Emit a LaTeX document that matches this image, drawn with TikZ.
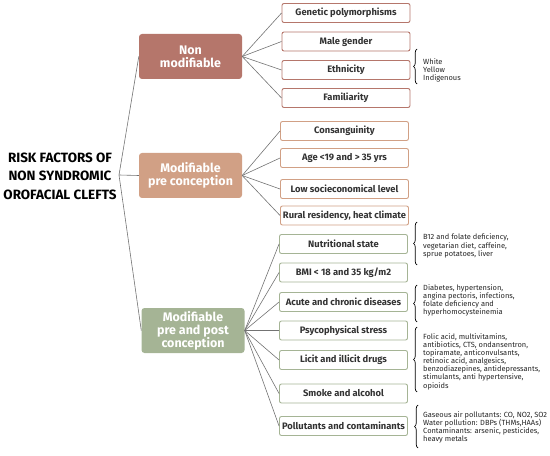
\documentclass[tikz,border=0pt]{standalone}
\usepackage{fontspec}
\setmainfont{Fira Sans}
\usetikzlibrary{decorations.pathreplacing}

\definecolor{nonmod}{HTML}{B5766B}
\definecolor{premod}{HTML}{D1A085}
\definecolor{postmod}{HTML}{A5B495}

\tikzset{
  cat/.style={rounded corners=3bp, minimum width=103bp, minimum height=45bp, inner sep=1bp,
    text=white, align=center, font=\bfseries\fontsize{12.5}{13}\selectfont},
  leaf/.style={draw=#1, fill=white, line width=0.9bp, rounded corners=2bp, minimum width=128bp,
    minimum height=19bp, inner sep=1bp, text=black!80, font=\bfseries\fontsize{9.4}{10}\selectfont},
  link/.style={draw=black!55, line width=0.6bp},
  note/.style={anchor=west, align=left, inner sep=0pt, text=black!85, font=\fontsize{7.5}{8.2}\selectfont},
  curly/.style={decorate, decoration={brace, amplitude=3.5bp}, line width=0.7bp}
}

\begin{document}
\begin{tikzpicture}[x=1bp, y=-1bp]
\useasboundingbox (0,0) rectangle (550,456);

% root
\node[align=center, inner sep=0pt, font=\bfseries\fontsize{13.5}{18.5}\selectfont] (root) at (60,176) {RISK FACTORS OF\\NON SYNDROMIC\\OROFACIAL CLEFTS};
\coordinate (fork) at (119,175);

% categories
\node[cat, fill=nonmod] (nonmod) at (190.5,56.5) {Non\\modifiable};
\node[cat, fill=premod] (precon) at (190.5,175.5) {Modifiable\\pre conception};
\node[cat, fill=postmod] (prepost) at (193,330.5) {Modifiable\\pre and post\\conception};

\draw[link] (fork) -- (nonmod.west);
\draw[link] (fork) -- (precon.west);
\draw[link] (fork) -- (prepost.west);

% non modifiable
\node[leaf=nonmod] (genetic) at (346,13) {Genetic polymorphisms};
\node[leaf=nonmod] (male) at (346,41.5) {Male gender};
\node[leaf=nonmod] (ethnic) at (346,70) {Ethnicity};
\node[leaf=nonmod] (family) at (346,98) {Familiarity};

% pre conception
\node[leaf=premod] (consang) at (344.5,131) {Consanguinity};
\node[leaf=premod] (age) at (344.5,158) {Age <19 and > 35 yrs};
\node[leaf=premod] (socio) at (344.5,189) {Low socieconomical level};
\node[leaf=premod] (rural) at (344.5,215.5) {Rural residency, heat climate};

% pre and post conception
\node[leaf=postmod] (nutri) at (343.5,244) {Nutritional state};
\node[leaf=postmod] (bmi) at (343.5,272.5) {BMI < 18 and 35 kg/m2};
\node[leaf=postmod] (disease) at (343.5,302) {Acute and chronic diseases};
\node[leaf=postmod] (stress) at (343.5,330.5) {Psycophysical stress};
\node[leaf=postmod] (drugs) at (343.5,360) {Licit and illicit drugs};
\node[leaf=postmod] (smoke) at (343.5,393.5) {Smoke and alcohol};
\node[leaf=postmod] (pollut) at (343.5,426) {Pollutants and contaminants};

\foreach \leafname in {genetic,male,ethnic,family}
  \draw[link] (nonmod.east) -- (\leafname.west);
\foreach \leafname in {consang,age,socio,rural}
  \draw[link] (precon.east) -- (\leafname.west);
\foreach \leafname in {nutri,bmi,disease,stress,drugs,smoke,pollut}
  \draw[link] (prepost.east) -- (\leafname.west);

% braces and notes
\coordinate (ethA) at (417,84);  \coordinate (ethB) at (417,49);
\coordinate (nutA) at (417,265); \coordinate (nutB) at (417,222);
\coordinate (disA) at (417,322); \coordinate (disB) at (417,285);
\coordinate (druA) at (417,392); \coordinate (druB) at (417,327);
\coordinate (polA) at (418,448); \coordinate (polB) at (418,405);
\draw[curly] (ethA) -- (ethB);
\draw[curly] (nutA) -- (nutB);
\draw[curly] (disA) -- (disB);
\draw[curly] (druA) -- (druB);
\draw[curly] (polA) -- (polB);

\node[note] (ethnote) at (423,70.5) {White\\Yellow\\Indigenous};
\node[note] (nutnote) at (423,246) {B12 and folate deficiency,\\vegetarian diet, caffeine,\\sprue potatoes, liver};
\node[note] (disnote) at (423,300.5) {Diabetes, hypertension,\\angina pectoris, infections,\\folate deficiency and\\hyperhomocysteinemia};
\node[note] (drunote) at (423,361.5) {Folic acid, multivitamins,\\antibiotics, CTS, ondansentron,\\topiramate, anticonvulsants,\\retinoic acid, analgesics,\\benzodiazepines, antidepressants,\\stimulants, anti hypertensive,\\opioids};
\node[note] (polnote) at (423,427.5) {Gaseous air pollutants: CO, NO2, SO2\\Water pollution: DBPs (THMs,HAAs)\\Contaminants: arsenic, pesticides,\\heavy metals};
\end{tikzpicture}
\end{document}
